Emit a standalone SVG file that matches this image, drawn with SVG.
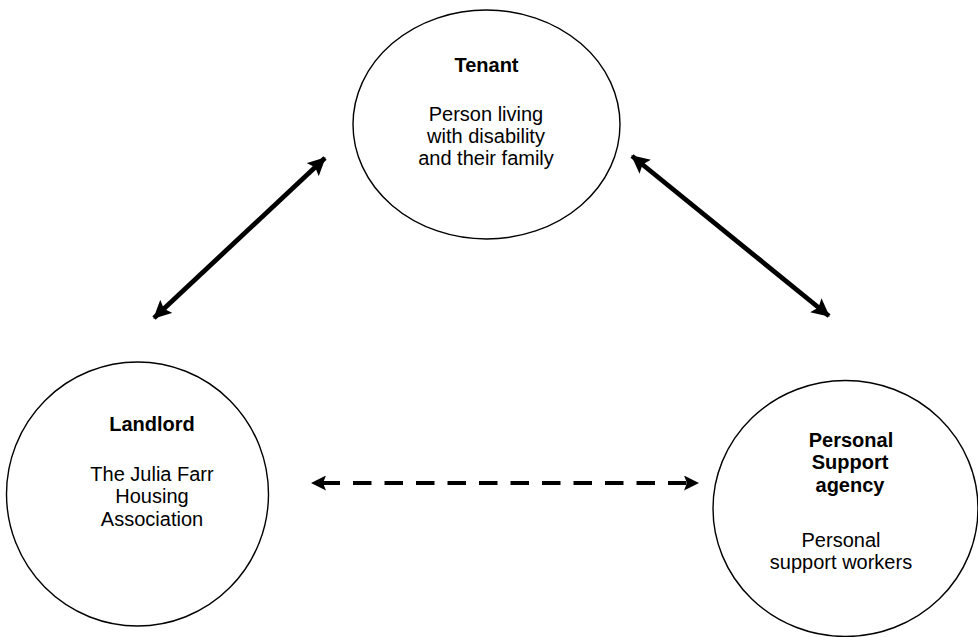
<svg xmlns="http://www.w3.org/2000/svg" width="978" height="637" viewBox="0 0 978 637">
<style>
  .node ellipse { fill: #ffffff; stroke: #000000; stroke-width: 1.4; }
  .t { font-family: "Liberation Sans", Arial, sans-serif; font-size: 20px; fill: #000000; text-anchor: middle; }
  .b { font-weight: bold; }
  .conn line { stroke: #000000; fill: none; }
  .solid { stroke-width: 4.8; }
  .dash { stroke-width: 4.2; stroke-dasharray: 18.5 13; stroke-dashoffset: 22; }
</style>
<defs>
  <marker id="ah" viewBox="0 0 18 18" refX="17" refY="9" markerWidth="18" markerHeight="18" markerUnits="userSpaceOnUse" orient="auto-start-reverse">
    <path d="M0,0 L18,9 L0,18 L3.5,9 z" fill="#000000"/>
  </marker>
  <marker id="ahs" viewBox="0 0 15 15" refX="14" refY="7.5" markerWidth="15" markerHeight="15" markerUnits="userSpaceOnUse" orient="auto-start-reverse">
    <path d="M0,0 L15,7.5 L0,15 L3,7.5 z" fill="#000000"/>
  </marker>
</defs>
<rect width="978" height="637" fill="#ffffff"/>
<g id="tenant" class="node">
  <ellipse cx="486.5" cy="124.5" rx="133.5" ry="114.5"/>
  <text class="t b" x="486.5" y="72">Tenant</text>
  <text class="t" x="486" y="121">Person living</text>
  <text class="t" x="486" y="143">with disability</text>
  <text class="t" x="486" y="165">and their family</text>
</g>
<g id="landlord" class="node">
  <ellipse cx="137.5" cy="494" rx="131" ry="132"/>
  <text class="t b" x="152" y="431">Landlord</text>
  <text class="t" x="152" y="481">The Julia Farr</text>
  <text class="t" x="152" y="503">Housing</text>
  <text class="t" x="152" y="526">Association</text>
</g>
<g id="support" class="node">
  <ellipse cx="845.5" cy="508.5" rx="132.5" ry="128"/>
  <text class="t b" x="851" y="447">Personal</text>
  <text class="t b" x="850" y="469">Support</text>
  <text class="t b" x="850" y="492">agency</text>
  <text class="t" x="841" y="547">Personal</text>
  <text class="t" x="841" y="569">support workers</text>
</g>
<g id="connectors" class="conn">
  <line class="solid" x1="154" y1="318" x2="325" y2="158" marker-start="url(#ah)" marker-end="url(#ah)"/>
  <line class="solid" x1="632" y1="156" x2="829" y2="316" marker-start="url(#ah)" marker-end="url(#ah)"/>
  <line class="dash" x1="312" y1="483" x2="698" y2="483" marker-start="url(#ahs)" marker-end="url(#ahs)"/>
</g>
</svg>
